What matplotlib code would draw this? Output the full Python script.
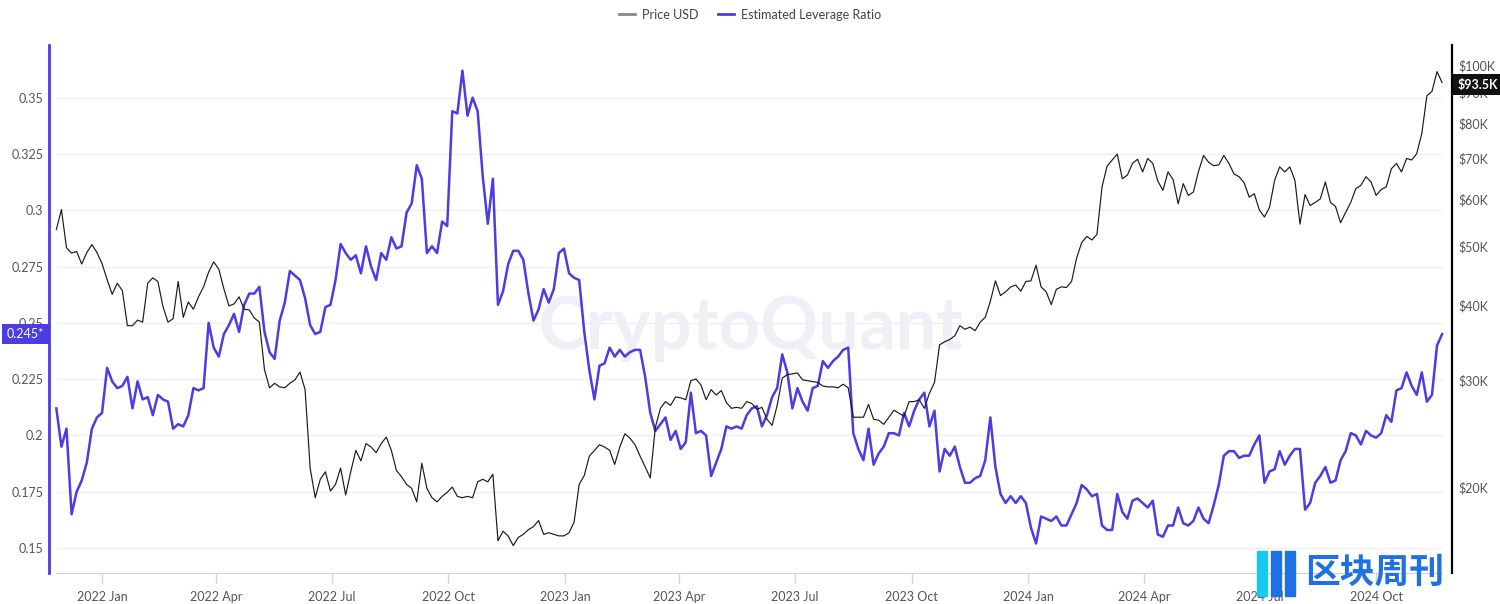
import numpy as np
import pandas as pd
import matplotlib
matplotlib.use("Agg")
import matplotlib.pyplot as plt
import matplotlib.dates as mdates
from matplotlib.lines import Line2D
from matplotlib.patches import Rectangle
from matplotlib.ticker import FixedLocator, NullLocator, FuncFormatter

plt.rcParams['font.family'] = ['Lato', 'DejaVu Sans']

# one reading every 4 days
dates = pd.date_range('2021-11-26', periods=274, freq='4D')

# BTC price, thousands of USD
price_k = [
    53.4, 57.6, 49.8, 48.8, 49.1, 46.8, 48.9, 50.4, 48.9, 46.9,
    44.1, 41.7, 43.5, 42.3, 37.0, 37.0, 37.8, 37.5, 43.5, 44.4,
    43.8, 39.8, 37.5, 38.0, 43.8, 38.2, 40.5, 39.4, 41.3, 42.9,
    45.4, 47.2, 45.9, 42.6, 39.9, 40.2, 41.3, 39.4, 39.3, 38.1,
    37.5, 31.3, 29.2, 29.7, 29.3, 29.2, 29.7, 30.1, 31.0, 29.0,
    21.5, 19.2, 20.6, 21.2, 19.7, 20.2, 21.5, 19.4, 21.2, 23.0,
    22.1, 23.6, 23.3, 22.8, 23.6, 24.2, 23.0, 21.3, 20.8,
    20.2, 19.9, 18.9, 21.9, 19.9, 19.2, 18.9, 19.3, 19.6, 20.0,
    19.3, 19.2, 19.3, 19.2, 20.4, 20.6, 20.4, 21.0, 16.3, 16.9,
    16.6, 16.0, 16.5, 16.7, 17.0, 17.2, 17.6, 16.7, 16.8, 16.7,
    16.6, 16.6, 16.8, 17.5, 20.2, 20.9, 22.5, 23.0, 23.5, 23.3,
    23.0, 21.8, 23.3, 24.5, 24.1, 23.5, 22.5, 21.6, 20.7, 25.1,
    27.0, 27.7, 27.3, 28.2, 28.1, 27.9, 30.0, 30.2, 29.5, 27.9,
    29.0, 28.4, 28.9, 27.6, 27.0, 27.1, 27.0, 27.7, 27.5,
    26.9, 27.1, 25.9, 25.3, 27.3, 30.3, 30.7, 30.8, 30.9, 30.1,
    30.0, 29.9, 29.8, 29.4, 29.3, 29.3, 29.2, 29.6, 29.2, 26.1,
    26.1, 26.1, 27.4, 25.9, 25.8, 25.4, 26.1, 26.8, 26.5, 26.2,
    27.7, 27.7, 27.9, 27.0, 28.6, 29.8, 34.4, 34.8, 35.1, 35.6,
    37.0, 36.5, 36.8, 36.3, 37.5, 38.2, 40.6, 43.9, 41.5, 42.1,
    42.9, 43.2, 42.2, 43.8, 43.9, 46.6, 42.9, 42.1, 40.1, 42.5,
    42.9, 42.8, 43.8, 47.9, 50.8, 52.0, 51.3, 52.4,
    62.8, 68.0, 69.6, 71.2, 64.8, 65.7, 68.7, 69.8, 66.5, 70.0,
    68.7, 64.2, 62.0, 66.5, 64.6, 58.9, 63.6, 60.8, 61.6, 66.6,
    70.8, 69.0, 68.1, 68.3, 70.8, 68.7, 66.0, 65.3, 63.8, 60.4,
    61.2, 57.5, 56.0, 58.1, 64.4, 67.8, 66.5, 67.8, 64.4, 54.5,
    61.0, 58.5, 59.2, 60.0, 64.0, 59.2, 58.3, 54.8, 57.0, 59.2,
    62.4, 63.2, 65.3, 64.0, 60.8, 62.2, 62.8, 67.3, 68.7, 66.5,
    70.0, 69.6, 71.3, 77.0, 88.9, 90.4, 97.5, 93.5,
]

leverage = [
    0.212, 0.195, 0.203, 0.165, 0.175, 0.180, 0.188, 0.203, 0.208, 0.210,
    0.230, 0.224, 0.221, 0.222, 0.226, 0.212, 0.224, 0.216, 0.217, 0.209,
    0.218, 0.216, 0.215, 0.203, 0.205, 0.204, 0.209, 0.221, 0.220, 0.221,
    0.250, 0.239, 0.235, 0.245, 0.249, 0.254, 0.246, 0.258, 0.263, 0.263,
    0.266, 0.246, 0.237, 0.234, 0.251, 0.259, 0.273, 0.271, 0.269, 0.261,
    0.249, 0.245, 0.246, 0.257, 0.258, 0.269, 0.285, 0.281, 0.278, 0.280,
    0.272, 0.284, 0.275, 0.269, 0.281, 0.278, 0.288, 0.283, 0.284,
    0.299, 0.303, 0.320, 0.314, 0.281, 0.284, 0.281, 0.295, 0.293, 0.344,
    0.343, 0.362, 0.342, 0.350, 0.344, 0.315, 0.294, 0.314, 0.258, 0.264,
    0.276, 0.282, 0.282, 0.278, 0.263, 0.251, 0.256, 0.265, 0.259, 0.265,
    0.281, 0.283, 0.272, 0.270, 0.269, 0.246, 0.229, 0.216, 0.231, 0.232,
    0.239, 0.235, 0.238, 0.235, 0.237, 0.238, 0.238, 0.226, 0.210, 0.202,
    0.205, 0.208, 0.198, 0.202, 0.194, 0.197, 0.219, 0.201, 0.202, 0.200,
    0.182, 0.188, 0.194, 0.204, 0.203, 0.204, 0.203, 0.209, 0.212,
    0.213, 0.204, 0.209, 0.217, 0.221, 0.236, 0.228, 0.212, 0.221, 0.215,
    0.211, 0.221, 0.222, 0.233, 0.230, 0.233, 0.235, 0.238, 0.239, 0.201,
    0.194, 0.189, 0.203, 0.187, 0.192, 0.195, 0.201, 0.201, 0.200, 0.210,
    0.204, 0.211, 0.216, 0.219, 0.204, 0.211, 0.184, 0.194, 0.191, 0.195,
    0.186, 0.179, 0.179, 0.181, 0.182, 0.189, 0.208, 0.186, 0.174, 0.170,
    0.173, 0.170, 0.173, 0.170, 0.159, 0.152, 0.164, 0.163, 0.162, 0.164,
    0.160, 0.160, 0.165, 0.170, 0.178, 0.176, 0.173, 0.174,
    0.160, 0.158, 0.158, 0.174, 0.166, 0.163, 0.171, 0.172, 0.170, 0.168,
    0.171, 0.156, 0.155, 0.160, 0.160, 0.168, 0.161, 0.160, 0.162, 0.168,
    0.163, 0.161, 0.169, 0.178, 0.191, 0.193, 0.193, 0.190, 0.191, 0.191,
    0.196, 0.200, 0.179, 0.184, 0.185, 0.193, 0.187, 0.191, 0.194, 0.194,
    0.167, 0.170, 0.179, 0.182, 0.186, 0.179, 0.180, 0.189, 0.193, 0.201,
    0.200, 0.196, 0.202, 0.200, 0.199, 0.201, 0.209, 0.206, 0.220, 0.221,
    0.228, 0.222, 0.218, 0.228, 0.215, 0.218, 0.240, 0.245,
]

lev_ticks = [0.15, 0.175, 0.2, 0.225, 0.25, 0.275, 0.3, 0.325, 0.35]
lev_labels = ['0.15', '0.175', '0.2', '0.225', '0.25', '0.275', '0.3', '0.325', '0.35']
price_ticks_k = [20, 30, 40, 50, 60, 70, 80, 90, 100]
month_ticks = pd.date_range('2022-01-01', '2024-10-01', freq='QS')
last_lev_label = '0.245*'
last_lev = 0.245
last_price_label = '$93.5K'
last_price = 93.5

PURPLE = '#4B3CE3'
TXT = '#555555'

fig = plt.figure(figsize=(15, 6.04), dpi=100)
ax = fig.add_axes([49/1500, 1 - 573/604, (1452 - 49)/1500, (573 - 45)/604])
ax2 = ax.twinx()

# watermark behind everything
ax.text(0.5, 0.424, 'CryptoQuant', transform=ax.transAxes, ha='center', va='baseline',
        fontsize=52, fontweight='bold', color='#f0eff6', zorder=0)

ax.hlines(lev_ticks, dates[0], dates[-1], color='#efefef', lw=1, zorder=1)
ax.plot(dates, leverage, color=PURPLE, lw=1.8, zorder=3)
ax2.plot(dates, np.array(price_k) * 1000, color='#1a1a1a', lw=0.85)

ax.set_xlim(pd.Timestamp('2021-11-20 05:00'), pd.Timestamp('2024-11-29 19:00'))
ax.set_ylim(0.1389, 0.3734)
ax2.set_yscale('log')
ax2.set_ylim(14410, 107900)

# left axis
ax.set_yticks(lev_ticks, lev_labels)
ax.tick_params(axis='y', length=0, pad=4, labelsize=9, labelcolor=TXT)
# right axis
ax2.yaxis.set_major_locator(FixedLocator([p * 1000 for p in price_ticks_k]))
ax2.yaxis.set_minor_locator(NullLocator())
ax2.yaxis.set_major_formatter(FuncFormatter(lambda v, _: f'${v/1000:.0f}K'))
ax2.tick_params(axis='y', length=0, pad=4.5, labelsize=9, labelcolor=TXT)
# bottom axis
ax.set_xticks(month_ticks)
ax.xaxis.set_major_formatter(mdates.DateFormatter('%Y %b'))
ax.tick_params(axis='x', length=7, width=1, color='#d4d4d4', pad=6, labelsize=9, labelcolor=TXT)

for s in ['top', 'right']:
    ax.spines[s].set_visible(False)
ax.spines['left'].set_color(PURPLE)
ax.spines['left'].set_linewidth(2)
ax.spines['bottom'].set_color('#d4d4d4')
ax.spines['bottom'].set_bounds(mdates.date2num(dates[0]), mdates.date2num(dates[-1]))
for s in ['top', 'left', 'bottom']:
    ax2.spines[s].set_visible(False)
ax2.spines['right'].set_color('black')
ax2.spines['right'].set_linewidth(1.6)

# last value tags
ax.annotate(last_lev_label, xy=(0, last_lev), xycoords=('axes fraction', 'data'),
            xytext=(-3.5, 0), textcoords='offset points', ha='right', va='center',
            fontsize=9, color='white', annotation_clip=False,
            bbox=dict(boxstyle='square,pad=0.35', fc=PURPLE, ec='none'))
ax2.annotate(last_price_label, xy=(1, last_price * 1000), xycoords=('axes fraction', 'data'),
             xytext=(4, -1.5), textcoords='offset points', ha='left', va='center',
             fontsize=9, fontweight='bold', color='white', annotation_clip=False, zorder=10,
             bbox=dict(boxstyle='square,pad=0.35', fc='#111111', ec='none'))

handles = [Line2D([], [], color='#888888', lw=2), Line2D([], [], color=PURPLE, lw=2)]
fig.legend(handles, ['Price USD', 'Estimated Leverage Ratio'], loc='upper center',
           bbox_to_anchor=(0.5, 1.0), ncol=2, frameon=False, fontsize=9,
           handlelength=1.3, handletextpad=0.5, columnspacing=1.6,
           borderaxespad=0.3, labelcolor='#444444')

# publisher logo, bottom right
for x0, w, c in [(1257, 10, '#19c8f0'), (1271, 10, '#1f6fe5'), (1285, 10, '#1f6fe5')]:
    fig.add_artist(Rectangle((x0/1500, 1 - 596/604), w/1500, 45/604,
                             transform=fig.transFigure, color=c, zorder=20))
fig.text(1305/1500, 1 - 572/604, '区块周刊', fontsize=25, fontweight='bold', color='#1f6fe5',
         family=['Noto Sans CJK SC', 'DejaVu Sans'], ha='left', va='center', zorder=20)

fig.savefig('out.png', dpi=100)
